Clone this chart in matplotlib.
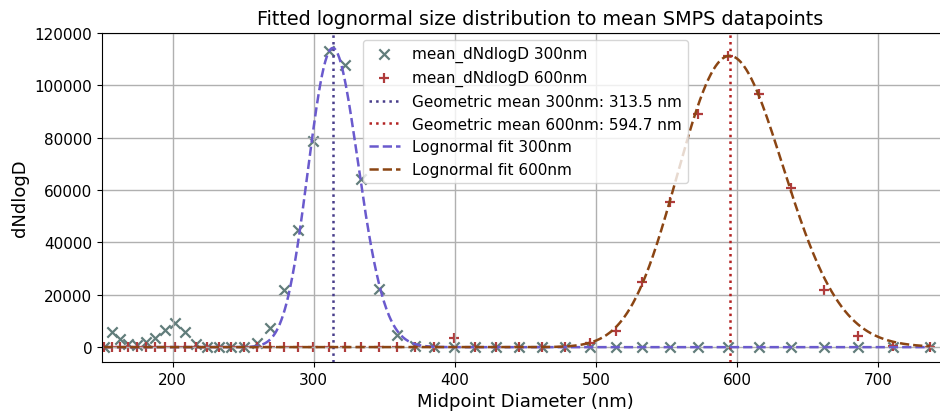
import numpy as np
import matplotlib
matplotlib.use("Agg")
import matplotlib.pyplot as plt

# SMPS channel midpoints (nm)
midpoints = [151.2, 156.8, 162.5, 168.5, 174.7, 181.1, 187.7, 194.6, 201.7, 209.1,
             216.7, 224.7, 232.9, 241.4, 250.3, 259.5, 269.0, 278.8, 289.0, 299.6,
             310.6, 322.0, 333.8, 346.0, 358.7, 371.8, 385.4, 399.5, 414.2, 429.4,
             445.1, 461.4, 478.3, 495.8, 514.0, 532.8, 552.3, 572.5, 593.5, 615.3,
             637.8, 661.2, 685.4, 710.5, 736.5]

# mean dN/dlogD per channel
mean_300 = [0, 5600, 3000, 1100, 800, 1900, 3400, 6500, 9200, 5700,
            1300, 0, 0, 0, 0, 1600, 7400, 21800, 44600, 78800,
            113200, 107600, 64000, 22300, 4800, 400, 0, 0, 0, 0,
            0, 0, 0, 0, 0, 0, 0, 0, 0, 0,
            0, 0, 0, 0, 0]
mean_600 = [0, 0, 0, 0, 0, 0, 0, 0, 0, 0,
            0, 0, 0, 0, 0, 0, 0, 0, 0, 0,
            0, 0, 0, 0, 0, 0, 0, 3500, 0, 0,
            0, 0, 0, 1400, 6000, 24800, 55500, 89000, 111100, 96500,
            60700, 22000, 4100, 400, 0]

# lognormal fit parameters: geometric mean, geometric std, peak height
gmean_300, gsd_300, amp_300 = 313.5, 1.058, 114200
gmean_600, gsd_600, amp_600 = 594.7, 1.065, 111200


def lognormal(d, gmean, gsd, amp):
    return amp * np.exp(-np.log(d / gmean) ** 2 / (2 * np.log(gsd) ** 2))


d = np.array(midpoints)
d_fine = np.linspace(d.min(), d.max(), 1000)

fig = plt.figure(figsize=(9.4, 4.14), dpi=100)
# plot area runs slightly past the right edge of the canvas
ax = fig.add_axes([0.1085, 0.123, 0.901, 0.796])

ax.scatter(d, mean_300, marker='x', s=55, linewidths=1.6, color='#617d7b',
           label='mean_dNdlogD 300nm')
ax.scatter(d, mean_600, marker='+', s=55, linewidths=1.6, color='#b03c3c',
           label='mean_dNdlogD 600nm')
ax.axvline(gmean_300, color='#483d8b', linestyle=':', linewidth=1.8,
           label=f'Geometric mean 300nm: {gmean_300} nm')
ax.axvline(gmean_600, color='#b22222', linestyle=':', linewidth=1.8,
           label=f'Geometric mean 600nm: {gmean_600} nm')
ax.plot(d_fine, lognormal(d_fine, gmean_300, gsd_300, amp_300), '--',
        color='#6a5acd', linewidth=1.8, label='Lognormal fit 300nm')
ax.plot(d_fine, lognormal(d_fine, gmean_600, gsd_600, amp_600), '--',
        color='#8b4513', linewidth=1.8, label='Lognormal fit 600nm')

ax.set_xlim(150, 750)
ax.set_ylim(-5700, 120100)
ax.grid(True, color='#b0b0b0', linewidth=1)
ax.tick_params(labelsize=11)
ax.set_xlabel('Midpoint Diameter (nm)', fontsize=13)
ax.set_ylabel('dNdlogD', fontsize=13)
ax.set_title('Fitted lognormal size distribution to mean SMPS datapoints',
             fontsize=13.8, x=0.517)
ax.legend(loc='upper center', fontsize=11)

fig.savefig('out.png', dpi=100)
